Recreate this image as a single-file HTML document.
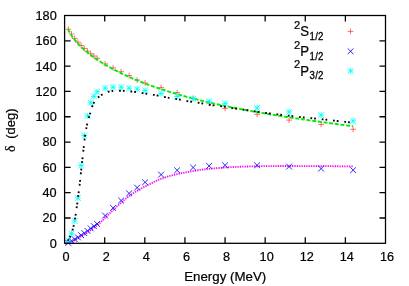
<!DOCTYPE html>
<html><head><meta charset="utf-8"><style>
html,body{margin:0;padding:0;background:#fff;}
svg{display:block;}
text{font-family:"Liberation Sans",sans-serif;font-size:13px;fill:#000;stroke:#000;stroke-width:0.22px;}
</style></head><body>
<svg width="409" height="286" viewBox="0 0 409 286">
<defs><filter id="b" x="0" y="0" width="409" height="286" filterUnits="userSpaceOnUse"><feGaussianBlur stdDeviation="0.38"/></filter></defs>
<rect width="409" height="286" fill="#fff"/>
<g filter="url(#b)">
<path d="M65.40,29.20H71.20M68.30,26.30V32.10M68.60,34.05H74.40M71.50,31.15V36.95M71.80,38.47H77.60M74.70,35.57V41.37M75.00,42.21H80.80M77.90,39.31V45.11M78.20,45.50H84.00M81.10,42.60V48.40M81.40,48.47H87.20M84.30,45.57V51.37M84.60,51.19H90.40M87.50,48.29V54.09M87.80,53.72H93.60M90.70,50.82V56.62M91.00,56.08H96.80M93.90,53.18V58.98M94.20,58.30H100.00M97.10,55.40V61.20M102.20,63.90H108.00M105.10,61.00V66.80M110.20,67.90H116.00M113.10,65.00V70.80M118.20,71.70H124.00M121.10,68.80V74.60M126.20,75.50H132.00M129.10,72.60V78.40M134.20,80.00H140.00M137.10,77.10V82.90M142.20,83.00H148.00M145.10,80.10V85.90M158.20,87.60H164.00M161.10,84.70V90.50M174.20,92.50H180.00M177.10,89.60V95.40M190.20,98.30H196.00M193.10,95.40V101.20M206.20,103.20H212.00M209.10,100.30V106.10M222.20,108.40H228.00M225.10,105.50V111.30M254.20,114.40H260.00M257.10,111.50V117.30M286.20,120.10H292.00M289.10,117.20V123.00M318.20,124.40H324.00M321.10,121.50V127.30M350.20,129.30H356.00M353.10,126.40V132.20M347.65,31.40H353.45M350.55,28.50V34.30" fill="none" stroke="#ff0000" stroke-width="0.55"/>
<path d="M68.00,28.92 L68.71,30.44 L69.43,31.82 L70.14,33.10 L70.86,34.29 L71.57,35.41 L72.29,36.47 L73.00,37.48 L73.71,38.45 L74.43,39.38 L75.14,40.27 L75.86,41.14 L76.57,41.97 L77.29,42.78 L78.00,43.57 L78.71,44.33 L79.43,45.08 L80.14,45.80 L80.86,46.51 L81.57,47.20 L82.29,47.88 L83.00,48.54 L83.71,49.19 L84.43,49.83 L85.14,50.46 L85.86,51.07 L86.57,51.67 L87.29,52.27 L88.00,52.85 L88.71,53.42 L89.43,53.98 L90.14,54.54 L90.86,55.09 L91.57,55.63 L92.29,56.16 L93.00,56.68 L93.71,57.20 L94.43,57.71 L95.14,58.21 L95.86,58.71 L96.57,59.20 L97.29,59.68 L98.00,60.16 L98.71,60.63 L99.43,61.10 L100.14,61.56 L100.86,62.01 L101.57,62.47 L102.29,62.91 L103.00,63.35 L103.71,63.79 L104.43,64.22 L105.14,64.65 L105.86,65.07 L106.57,65.49 L107.29,65.90 L108.00,66.31 L108.71,66.72 L109.43,67.12 L110.14,67.52 L110.86,67.91 L111.57,68.31 L112.29,68.69 L113.00,69.08 L113.71,69.46 L114.43,69.83 L115.14,70.21 L115.86,70.58 L116.57,70.95 L117.29,71.31 L118.00,71.67 L118.71,72.03 L119.43,72.38 L120.14,72.73 L120.86,73.08 L121.57,73.43 L122.29,73.77 L123.00,74.11 L123.71,74.45 L124.43,74.79 L125.14,75.12 L125.86,75.45 L126.57,75.78 L127.29,76.10 L128.00,76.42 L128.71,76.75 L129.43,77.06 L130.14,77.38 L130.86,77.69 L131.57,78.00 L132.29,78.31 L133.00,78.62 L133.71,78.92 L134.43,79.22 L135.14,79.52 L135.86,79.82 L136.57,80.12 L137.29,80.41 L138.00,80.70 L138.71,80.99 L139.43,81.28 L140.14,81.56 L140.86,81.85 L141.57,82.13 L142.29,82.41 L143.00,82.69 L143.71,82.96 L144.43,83.24 L145.14,83.51 L145.86,83.78 L146.57,84.05 L147.29,84.32 L148.00,84.58 L148.71,84.84 L149.43,85.11 L150.14,85.37 L150.86,85.63 L151.57,85.88 L152.29,86.14 L153.00,86.39 L153.71,86.64 L154.43,86.90 L155.14,87.14 L155.86,87.39 L156.57,87.64 L157.29,87.88 L158.00,88.13 L158.71,88.37 L159.43,88.61 L160.14,88.85 L160.86,89.09 L161.57,89.32 L162.29,89.56 L163.00,89.79 L163.71,90.02 L164.43,90.25 L165.14,90.48 L165.86,90.71 L166.57,90.94 L167.29,91.16 L168.00,91.39 L168.71,91.61 L169.43,91.83 L170.14,92.05 L170.86,92.27 L171.57,92.49 L172.29,92.70 L173.00,92.92 L173.71,93.13 L174.43,93.35 L175.14,93.56 L175.86,93.77 L176.57,93.98 L177.29,94.19 L178.00,94.39 L178.71,94.60 L179.43,94.80 L180.14,95.01 L180.86,95.21 L181.57,95.41 L182.29,95.61 L183.00,95.81 L183.71,96.01 L184.43,96.21 L185.14,96.41 L185.86,96.60 L186.57,96.80 L187.29,96.99 L188.00,97.18 L188.71,97.37 L189.43,97.56 L190.14,97.75 L190.86,97.94 L191.57,98.13 L192.29,98.31 L193.00,98.50 L193.71,98.69 L194.43,98.87 L195.14,99.05 L195.86,99.23 L196.57,99.41 L197.29,99.59 L198.00,99.77 L198.71,99.95 L199.43,100.13 L200.14,100.31 L200.86,100.48 L201.57,100.66 L202.29,100.83 L203.00,101.00 L203.71,101.18 L204.43,101.35 L205.14,101.52 L205.86,101.69 L206.57,101.86 L207.29,102.03 L208.00,102.19 L208.71,102.36 L209.43,102.53 L210.14,102.69 L210.86,102.85 L211.57,103.02 L212.29,103.18 L213.00,103.34 L213.71,103.50 L214.43,103.66 L215.14,103.82 L215.86,103.98 L216.57,104.14 L217.29,104.30 L218.00,104.46 L218.71,104.61 L219.43,104.77 L220.14,104.92 L220.86,105.08 L221.57,105.23 L222.29,105.38 L223.00,105.54 L223.71,105.69 L224.43,105.84 L225.14,105.99 L225.86,106.14 L226.57,106.29 L227.29,106.43 L228.00,106.58 L228.71,106.73 L229.43,106.88 L230.14,107.02 L230.86,107.17 L231.57,107.31 L232.29,107.45 L233.00,107.60 L233.71,107.74 L234.43,107.88 L235.14,108.02 L235.86,108.16 L236.57,108.30 L237.29,108.44 L238.00,108.58 L238.71,108.72 L239.43,108.86 L240.14,109.00 L240.86,109.13 L241.57,109.27 L242.29,109.41 L243.00,109.54 L243.71,109.68 L244.43,109.81 L245.14,109.95 L245.86,110.08 L246.57,110.21 L247.29,110.34 L248.00,110.47 L248.71,110.61 L249.43,110.74 L250.14,110.87 L250.86,111.00 L251.57,111.13 L252.29,111.25 L253.00,111.38 L253.71,111.51 L254.43,111.64 L255.14,111.76 L255.86,111.89 L256.57,112.02 L257.29,112.14 L258.00,112.27 L258.71,112.39 L259.43,112.52 L260.14,112.64 L260.86,112.76 L261.57,112.89 L262.29,113.01 L263.00,113.13 L263.71,113.25 L264.43,113.37 L265.14,113.49 L265.86,113.61 L266.57,113.73 L267.29,113.85 L268.00,113.97 L268.71,114.09 L269.43,114.21 L270.14,114.33 L270.86,114.45 L271.57,114.56 L272.29,114.68 L273.00,114.80 L273.71,114.91 L274.43,115.03 L275.14,115.14 L275.86,115.26 L276.57,115.37 L277.29,115.49 L278.00,115.60 L278.71,115.72 L279.43,115.83 L280.14,115.94 L280.86,116.05 L281.57,116.17 L282.29,116.28 L283.00,116.39 L283.71,116.50 L284.43,116.61 L285.14,116.72 L285.86,116.83 L286.57,116.94 L287.29,117.05 L288.00,117.16 L288.71,117.27 L289.43,117.38 L290.14,117.49 L290.86,117.60 L291.57,117.71 L292.29,117.81 L293.00,117.92 L293.71,118.03 L294.43,118.13 L295.14,118.24 L295.86,118.35 L296.57,118.45 L297.29,118.56 L298.00,118.67 L298.71,118.77 L299.43,118.88 L300.14,118.98 L300.86,119.08 L301.57,119.19 L302.29,119.29 L303.00,119.40 L303.71,119.50 L304.43,119.60 L305.14,119.71 L305.86,119.81 L306.57,119.91 L307.29,120.02 L308.00,120.12 L308.71,120.22 L309.43,120.32 L310.14,120.42 L310.86,120.52 L311.57,120.63 L312.29,120.73 L313.00,120.83 L313.71,120.93 L314.43,121.03 L315.14,121.13 L315.86,121.23 L316.57,121.33 L317.29,121.43 L318.00,121.53 L318.71,121.63 L319.43,121.73 L320.14,121.83 L320.86,121.92 L321.57,122.02 L322.29,122.12 L323.00,122.22 L323.71,122.32 L324.43,122.42 L325.14,122.51 L325.86,122.61 L326.57,122.71 L327.29,122.81 L328.00,122.90 L328.71,123.00 L329.43,123.10 L330.14,123.20 L330.86,123.29 L331.57,123.39 L332.29,123.49 L333.00,123.58 L333.71,123.68 L334.43,123.77 L335.14,123.87 L335.86,123.97 L336.57,124.06 L337.29,124.16 L338.00,124.25 L338.71,124.35 L339.43,124.44 L340.14,124.54 L340.86,124.63 L341.57,124.73 L342.29,124.83 L343.00,124.92 L343.71,125.01 L344.43,125.11 L345.14,125.20 L345.86,125.30 L346.57,125.39 L347.29,125.49 L348.00,125.58 L348.71,125.68 L349.43,125.77 L350.14,125.87 L350.86,125.96 L351.57,126.05 L352.29,126.15 L353.00,126.24" fill="none" stroke="#00ec00" stroke-width="1.9" stroke-dasharray="3.895 1.805" stroke-dashoffset="-0.2"/>
<path d="M65.00,243.50 L65.58,243.49 L66.15,243.45 L66.73,243.39 L67.31,243.31 L67.89,243.23 L68.46,243.14 L69.04,242.99 L69.62,242.80 L70.19,242.57 L70.77,242.31 L71.35,242.02 L71.93,241.72 L72.50,241.41 L73.08,241.09 L73.66,240.78 L74.23,240.48 L74.81,240.18 L75.39,239.86 L75.97,239.54 L76.54,239.20 L77.12,238.85 L77.70,238.50 L78.27,238.14 L78.85,237.79 L79.43,237.44 L80.01,237.10 L80.58,236.76 L81.16,236.42 L81.74,236.09 L82.31,235.76 L82.89,235.43 L83.47,235.09 L84.05,234.75 L84.62,234.41 L85.20,234.06 L85.78,233.70 L86.35,233.33 L86.93,232.95 L87.51,232.56 L88.09,232.16 L88.66,231.75 L89.24,231.34 L89.82,230.91 L90.39,230.49 L90.97,230.06 L91.55,229.62 L92.13,229.18 L92.70,228.74 L93.28,228.30 L93.86,227.86 L94.43,227.41 L95.01,226.95 L95.59,226.49 L96.17,226.02 L96.74,225.55 L97.32,225.07 L97.90,224.59 L98.47,224.09 L99.05,223.59 L99.63,223.08 L100.21,222.56 L100.78,222.03 L101.36,221.49 L101.94,220.95 L102.52,220.40 L103.09,219.85 L103.67,219.29 L104.25,218.73 L104.82,218.17 L105.40,217.60 L105.98,217.04 L106.56,216.48 L107.13,215.91 L107.71,215.36 L108.29,214.80 L108.86,214.25 L109.44,213.69 L110.02,213.13 L110.60,212.57 L111.17,212.01 L111.75,211.44 L112.33,210.87 L112.90,210.31 L113.48,209.74 L114.06,209.18 L114.64,208.62 L115.21,208.07 L115.79,207.52 L116.37,206.97 L116.94,206.43 L117.52,205.90 L118.10,205.38 L118.68,204.87 L119.25,204.35 L119.83,203.84 L120.41,203.32 L120.98,202.81 L121.56,202.30 L122.14,201.79 L122.72,201.29 L123.29,200.79 L123.87,200.29 L124.45,199.80 L125.02,199.31 L125.60,198.83 L126.18,198.36 L126.76,197.89 L127.33,197.43 L127.91,196.98 L128.49,196.54 L129.06,196.11 L129.64,195.68 L130.22,195.27 L130.80,194.86 L131.37,194.47 L131.95,194.08 L132.53,193.70 L133.10,193.33 L133.68,192.96 L134.26,192.60 L134.84,192.24 L135.41,191.89 L135.99,191.54 L136.57,191.20 L137.14,190.86 L137.72,190.53 L138.30,190.20 L138.88,189.87 L139.45,189.54 L140.03,189.22 L140.61,188.90 L141.18,188.58 L141.76,188.27 L142.34,187.95 L142.92,187.64 L143.49,187.33 L144.07,187.03 L144.65,186.73 L145.22,186.44 L145.80,186.15 L146.38,185.86 L146.96,185.57 L147.53,185.29 L148.11,185.00 L148.69,184.71 L149.26,184.41 L149.84,184.11 L150.42,183.81 L151.00,183.50 L151.57,183.20 L152.15,182.89 L152.73,182.58 L153.30,182.28 L153.88,181.98 L154.46,181.68 L155.04,181.39 L155.61,181.11 L156.19,180.84 L156.77,180.59 L157.34,180.34 L157.92,180.10 L158.50,179.86 L159.08,179.63 L159.65,179.40 L160.23,179.18 L160.81,178.95 L161.38,178.74 L161.96,178.52 L162.54,178.31 L163.12,178.11 L163.69,177.90 L164.27,177.70 L164.85,177.51 L165.42,177.32 L166.00,177.13 L166.58,176.94 L167.16,176.76 L167.73,176.59 L168.31,176.41 L168.89,176.25 L169.46,176.08 L170.04,175.92 L170.62,175.76 L171.20,175.61 L171.77,175.46 L172.35,175.31 L172.93,175.17 L173.51,175.02 L174.08,174.88 L174.66,174.75 L175.24,174.61 L175.81,174.48 L176.39,174.35 L176.97,174.22 L177.55,174.09 L178.12,173.96 L178.70,173.84 L179.28,173.71 L179.85,173.59 L180.43,173.47 L181.01,173.35 L181.59,173.22 L182.16,173.10 L182.74,172.98 L183.32,172.87 L183.89,172.75 L184.47,172.63 L185.05,172.52 L185.63,172.41 L186.20,172.29 L186.78,172.18 L187.36,172.07 L187.93,171.96 L188.51,171.86 L189.09,171.75 L189.67,171.64 L190.24,171.54 L190.82,171.44 L191.40,171.33 L191.97,171.23 L192.55,171.13 L193.13,171.03 L193.71,170.93 L194.28,170.83 L194.86,170.74 L195.44,170.64 L196.01,170.54 L196.59,170.44 L197.17,170.35 L197.75,170.25 L198.32,170.16 L198.90,170.07 L199.48,169.98 L200.05,169.89 L200.63,169.81 L201.21,169.73 L201.79,169.65 L202.36,169.58 L202.94,169.51 L203.52,169.44 L204.09,169.38 L204.67,169.32 L205.25,169.25 L205.83,169.19 L206.40,169.13 L206.98,169.08 L207.56,169.02 L208.13,168.96 L208.71,168.91 L209.29,168.86 L209.87,168.80 L210.44,168.75 L211.02,168.70 L211.60,168.65 L212.17,168.60 L212.75,168.55 L213.33,168.49 L213.91,168.44 L214.48,168.39 L215.06,168.34 L215.64,168.29 L216.21,168.24 L216.79,168.19 L217.37,168.13 L217.95,168.08 L218.52,168.03 L219.10,167.98 L219.68,167.93 L220.25,167.88 L220.83,167.83 L221.41,167.79 L221.99,167.74 L222.56,167.69 L223.14,167.65 L223.72,167.60 L224.29,167.56 L224.87,167.52 L225.45,167.48 L226.03,167.44 L226.60,167.41 L227.18,167.37 L227.76,167.34 L228.33,167.30 L228.91,167.27 L229.49,167.24 L230.07,167.21 L230.64,167.17 L231.22,167.14 L231.80,167.11 L232.37,167.08 L232.95,167.06 L233.53,167.03 L234.11,167.00 L234.68,166.97 L235.26,166.95 L235.84,166.92 L236.41,166.90 L236.99,166.87 L237.57,166.85 L238.15,166.83 L238.72,166.81 L239.30,166.78 L239.88,166.76 L240.45,166.74 L241.03,166.72 L241.61,166.70 L242.19,166.68 L242.76,166.66 L243.34,166.64 L243.92,166.61 L244.49,166.59 L245.07,166.57 L245.65,166.55 L246.23,166.53 L246.80,166.51 L247.38,166.49 L247.96,166.48 L248.54,166.46 L249.11,166.44 L249.69,166.42 L250.27,166.40 L250.84,166.39 L251.42,166.37 L252.00,166.35 L252.58,166.34 L253.15,166.32 L253.73,166.31 L254.31,166.29 L254.88,166.28 L255.46,166.27 L256.04,166.26 L256.62,166.24 L257.19,166.23 L257.77,166.22 L258.35,166.21 L258.92,166.21 L259.50,166.20 L260.08,166.19 L260.66,166.18 L261.23,166.18 L261.81,166.17 L262.39,166.16 L262.96,166.15 L263.54,166.15 L264.12,166.14 L264.70,166.13 L265.27,166.13 L265.85,166.12 L266.43,166.11 L267.00,166.11 L267.58,166.10 L268.16,166.09 L268.74,166.09 L269.31,166.08 L269.89,166.08 L270.47,166.07 L271.04,166.07 L271.62,166.06 L272.20,166.06 L272.78,166.05 L273.35,166.05 L273.93,166.04 L274.51,166.04 L275.08,166.03 L275.66,166.03 L276.24,166.03 L276.82,166.02 L277.39,166.02 L277.97,166.02 L278.55,166.01 L279.12,166.01 L279.70,166.01 L280.28,166.01 L280.86,166.00 L281.43,166.00 L282.01,166.00 L282.59,166.00 L283.16,166.00 L283.74,166.00 L284.32,166.00 L284.90,166.00 L285.47,166.00 L286.05,166.00 L286.63,166.00 L287.20,166.00 L287.78,166.00 L288.36,166.00 L288.94,166.01 L289.51,166.01 L290.09,166.01 L290.67,166.01 L291.24,166.01 L291.82,166.01 L292.40,166.01 L292.98,166.02 L293.55,166.02 L294.13,166.02 L294.71,166.02 L295.28,166.02 L295.86,166.03 L296.44,166.03 L297.02,166.03 L297.59,166.03 L298.17,166.04 L298.75,166.04 L299.32,166.04 L299.90,166.04 L300.48,166.05 L301.06,166.05 L301.63,166.05 L302.21,166.06 L302.79,166.06 L303.36,166.06 L303.94,166.06 L304.52,166.07 L305.10,166.07 L305.67,166.07 L306.25,166.08 L306.83,166.08 L307.40,166.08 L307.98,166.08 L308.56,166.09 L309.14,166.09 L309.71,166.09 L310.29,166.10 L310.87,166.10 L311.44,166.10 L312.02,166.10 L312.60,166.11 L313.18,166.11 L313.75,166.11 L314.33,166.12 L314.91,166.12 L315.48,166.12 L316.06,166.12 L316.64,166.13 L317.22,166.13 L317.79,166.13 L318.37,166.14 L318.95,166.14 L319.53,166.14 L320.10,166.15 L320.68,166.15 L321.26,166.15 L321.83,166.16 L322.41,166.16 L322.99,166.16 L323.57,166.17 L324.14,166.17 L324.72,166.18 L325.30,166.18 L325.87,166.18 L326.45,166.19 L327.03,166.19 L327.61,166.19 L328.18,166.20 L328.76,166.20 L329.34,166.21 L329.91,166.21 L330.49,166.21 L331.07,166.22 L331.65,166.22 L332.22,166.23 L332.80,166.23 L333.38,166.24 L333.95,166.24 L334.53,166.24 L335.11,166.25 L335.69,166.25 L336.26,166.26 L336.84,166.26 L337.42,166.27 L337.99,166.27 L338.57,166.28 L339.15,166.28 L339.73,166.28 L340.30,166.29 L340.88,166.29 L341.46,166.30 L342.03,166.30 L342.61,166.31 L343.19,166.31 L343.77,166.32 L344.34,166.32 L344.92,166.33 L345.50,166.33 L346.07,166.34 L346.65,166.34 L347.23,166.35 L347.81,166.35 L348.38,166.36 L348.96,166.36 L349.54,166.37 L350.11,166.37 L350.69,166.38 L351.27,166.38 L351.85,166.39 L352.42,166.39 L353.00,166.40" fill="none" stroke="#ffdcff" stroke-width="1.8"/>
<path d="M65.00,243.50 L65.58,243.49 L66.15,243.45 L66.73,243.39 L67.31,243.31 L67.89,243.23 L68.46,243.14 L69.04,242.99 L69.62,242.80 L70.19,242.57 L70.77,242.31 L71.35,242.02 L71.93,241.72 L72.50,241.41 L73.08,241.09 L73.66,240.78 L74.23,240.48 L74.81,240.18 L75.39,239.86 L75.97,239.54 L76.54,239.20 L77.12,238.85 L77.70,238.50 L78.27,238.14 L78.85,237.79 L79.43,237.44 L80.01,237.10 L80.58,236.76 L81.16,236.42 L81.74,236.09 L82.31,235.76 L82.89,235.43 L83.47,235.09 L84.05,234.75 L84.62,234.41 L85.20,234.06 L85.78,233.70 L86.35,233.33 L86.93,232.95 L87.51,232.56 L88.09,232.16 L88.66,231.75 L89.24,231.34 L89.82,230.91 L90.39,230.49 L90.97,230.06 L91.55,229.62 L92.13,229.18 L92.70,228.74 L93.28,228.30 L93.86,227.86 L94.43,227.41 L95.01,226.95 L95.59,226.49 L96.17,226.02 L96.74,225.55 L97.32,225.07 L97.90,224.59 L98.47,224.09 L99.05,223.59 L99.63,223.08 L100.21,222.56 L100.78,222.03 L101.36,221.49 L101.94,220.95 L102.52,220.40 L103.09,219.85 L103.67,219.29 L104.25,218.73 L104.82,218.17 L105.40,217.60 L105.98,217.04 L106.56,216.48 L107.13,215.91 L107.71,215.36 L108.29,214.80 L108.86,214.25 L109.44,213.69 L110.02,213.13 L110.60,212.57 L111.17,212.01 L111.75,211.44 L112.33,210.87 L112.90,210.31 L113.48,209.74 L114.06,209.18 L114.64,208.62 L115.21,208.07 L115.79,207.52 L116.37,206.97 L116.94,206.43 L117.52,205.90 L118.10,205.38 L118.68,204.87 L119.25,204.35 L119.83,203.84 L120.41,203.32 L120.98,202.81 L121.56,202.30 L122.14,201.79 L122.72,201.29 L123.29,200.79 L123.87,200.29 L124.45,199.80 L125.02,199.31 L125.60,198.83 L126.18,198.36 L126.76,197.89 L127.33,197.43 L127.91,196.98 L128.49,196.54 L129.06,196.11 L129.64,195.68 L130.22,195.27 L130.80,194.86 L131.37,194.47 L131.95,194.08 L132.53,193.70 L133.10,193.33 L133.68,192.96 L134.26,192.60 L134.84,192.24 L135.41,191.89 L135.99,191.54 L136.57,191.20 L137.14,190.86 L137.72,190.53 L138.30,190.20 L138.88,189.87 L139.45,189.54 L140.03,189.22 L140.61,188.90 L141.18,188.58 L141.76,188.27 L142.34,187.95 L142.92,187.64 L143.49,187.33 L144.07,187.03 L144.65,186.73 L145.22,186.44 L145.80,186.15 L146.38,185.86 L146.96,185.57 L147.53,185.29 L148.11,185.00 L148.69,184.71 L149.26,184.41 L149.84,184.11 L150.42,183.81 L151.00,183.50 L151.57,183.20 L152.15,182.89 L152.73,182.58 L153.30,182.28 L153.88,181.98 L154.46,181.68 L155.04,181.39 L155.61,181.11 L156.19,180.84 L156.77,180.59 L157.34,180.34 L157.92,180.10 L158.50,179.86 L159.08,179.63 L159.65,179.40 L160.23,179.18 L160.81,178.95 L161.38,178.74 L161.96,178.52 L162.54,178.31 L163.12,178.11 L163.69,177.90 L164.27,177.70 L164.85,177.51 L165.42,177.32 L166.00,177.13 L166.58,176.94 L167.16,176.76 L167.73,176.59 L168.31,176.41 L168.89,176.25 L169.46,176.08 L170.04,175.92 L170.62,175.76 L171.20,175.61 L171.77,175.46 L172.35,175.31 L172.93,175.17 L173.51,175.02 L174.08,174.88 L174.66,174.75 L175.24,174.61 L175.81,174.48 L176.39,174.35 L176.97,174.22 L177.55,174.09 L178.12,173.96 L178.70,173.84 L179.28,173.71 L179.85,173.59 L180.43,173.47 L181.01,173.35 L181.59,173.22 L182.16,173.10 L182.74,172.98 L183.32,172.87 L183.89,172.75 L184.47,172.63 L185.05,172.52 L185.63,172.41 L186.20,172.29 L186.78,172.18 L187.36,172.07 L187.93,171.96 L188.51,171.86 L189.09,171.75 L189.67,171.64 L190.24,171.54 L190.82,171.44 L191.40,171.33 L191.97,171.23 L192.55,171.13 L193.13,171.03 L193.71,170.93 L194.28,170.83 L194.86,170.74 L195.44,170.64 L196.01,170.54 L196.59,170.44 L197.17,170.35 L197.75,170.25 L198.32,170.16 L198.90,170.07 L199.48,169.98 L200.05,169.89 L200.63,169.81 L201.21,169.73 L201.79,169.65 L202.36,169.58 L202.94,169.51 L203.52,169.44 L204.09,169.38 L204.67,169.32 L205.25,169.25 L205.83,169.19 L206.40,169.13 L206.98,169.08 L207.56,169.02 L208.13,168.96 L208.71,168.91 L209.29,168.86 L209.87,168.80 L210.44,168.75 L211.02,168.70 L211.60,168.65 L212.17,168.60 L212.75,168.55 L213.33,168.49 L213.91,168.44 L214.48,168.39 L215.06,168.34 L215.64,168.29 L216.21,168.24 L216.79,168.19 L217.37,168.13 L217.95,168.08 L218.52,168.03 L219.10,167.98 L219.68,167.93 L220.25,167.88 L220.83,167.83 L221.41,167.79 L221.99,167.74 L222.56,167.69 L223.14,167.65 L223.72,167.60 L224.29,167.56 L224.87,167.52 L225.45,167.48 L226.03,167.44 L226.60,167.41 L227.18,167.37 L227.76,167.34 L228.33,167.30 L228.91,167.27 L229.49,167.24 L230.07,167.21 L230.64,167.17 L231.22,167.14 L231.80,167.11 L232.37,167.08 L232.95,167.06 L233.53,167.03 L234.11,167.00 L234.68,166.97 L235.26,166.95 L235.84,166.92 L236.41,166.90 L236.99,166.87 L237.57,166.85 L238.15,166.83 L238.72,166.81 L239.30,166.78 L239.88,166.76 L240.45,166.74 L241.03,166.72 L241.61,166.70 L242.19,166.68 L242.76,166.66 L243.34,166.64 L243.92,166.61 L244.49,166.59 L245.07,166.57 L245.65,166.55 L246.23,166.53 L246.80,166.51 L247.38,166.49 L247.96,166.48 L248.54,166.46 L249.11,166.44 L249.69,166.42 L250.27,166.40 L250.84,166.39 L251.42,166.37 L252.00,166.35 L252.58,166.34 L253.15,166.32 L253.73,166.31 L254.31,166.29 L254.88,166.28 L255.46,166.27 L256.04,166.26 L256.62,166.24 L257.19,166.23 L257.77,166.22 L258.35,166.21 L258.92,166.21 L259.50,166.20 L260.08,166.19 L260.66,166.18 L261.23,166.18 L261.81,166.17 L262.39,166.16 L262.96,166.15 L263.54,166.15 L264.12,166.14 L264.70,166.13 L265.27,166.13 L265.85,166.12 L266.43,166.11 L267.00,166.11 L267.58,166.10 L268.16,166.09 L268.74,166.09 L269.31,166.08 L269.89,166.08 L270.47,166.07 L271.04,166.07 L271.62,166.06 L272.20,166.06 L272.78,166.05 L273.35,166.05 L273.93,166.04 L274.51,166.04 L275.08,166.03 L275.66,166.03 L276.24,166.03 L276.82,166.02 L277.39,166.02 L277.97,166.02 L278.55,166.01 L279.12,166.01 L279.70,166.01 L280.28,166.01 L280.86,166.00 L281.43,166.00 L282.01,166.00 L282.59,166.00 L283.16,166.00 L283.74,166.00 L284.32,166.00 L284.90,166.00 L285.47,166.00 L286.05,166.00 L286.63,166.00 L287.20,166.00 L287.78,166.00 L288.36,166.00 L288.94,166.01 L289.51,166.01 L290.09,166.01 L290.67,166.01 L291.24,166.01 L291.82,166.01 L292.40,166.01 L292.98,166.02 L293.55,166.02 L294.13,166.02 L294.71,166.02 L295.28,166.02 L295.86,166.03 L296.44,166.03 L297.02,166.03 L297.59,166.03 L298.17,166.04 L298.75,166.04 L299.32,166.04 L299.90,166.04 L300.48,166.05 L301.06,166.05 L301.63,166.05 L302.21,166.06 L302.79,166.06 L303.36,166.06 L303.94,166.06 L304.52,166.07 L305.10,166.07 L305.67,166.07 L306.25,166.08 L306.83,166.08 L307.40,166.08 L307.98,166.08 L308.56,166.09 L309.14,166.09 L309.71,166.09 L310.29,166.10 L310.87,166.10 L311.44,166.10 L312.02,166.10 L312.60,166.11 L313.18,166.11 L313.75,166.11 L314.33,166.12 L314.91,166.12 L315.48,166.12 L316.06,166.12 L316.64,166.13 L317.22,166.13 L317.79,166.13 L318.37,166.14 L318.95,166.14 L319.53,166.14 L320.10,166.15 L320.68,166.15 L321.26,166.15 L321.83,166.16 L322.41,166.16 L322.99,166.16 L323.57,166.17 L324.14,166.17 L324.72,166.18 L325.30,166.18 L325.87,166.18 L326.45,166.19 L327.03,166.19 L327.61,166.19 L328.18,166.20 L328.76,166.20 L329.34,166.21 L329.91,166.21 L330.49,166.21 L331.07,166.22 L331.65,166.22 L332.22,166.23 L332.80,166.23 L333.38,166.24 L333.95,166.24 L334.53,166.24 L335.11,166.25 L335.69,166.25 L336.26,166.26 L336.84,166.26 L337.42,166.27 L337.99,166.27 L338.57,166.28 L339.15,166.28 L339.73,166.28 L340.30,166.29 L340.88,166.29 L341.46,166.30 L342.03,166.30 L342.61,166.31 L343.19,166.31 L343.77,166.32 L344.34,166.32 L344.92,166.33 L345.50,166.33 L346.07,166.34 L346.65,166.34 L347.23,166.35 L347.81,166.35 L348.38,166.36 L348.96,166.36 L349.54,166.37 L350.11,166.37 L350.69,166.38 L351.27,166.38 L351.85,166.39 L352.42,166.39 L353.00,166.40" fill="none" stroke="#f400f4" stroke-width="1.8" stroke-dasharray="1.1 1.275"/>
<path d="M65.40,240.00L71.20,245.80M65.40,245.80L71.20,240.00M68.60,238.00L74.40,243.80M68.60,243.80L74.40,238.00M71.80,236.30L77.60,242.10M71.80,242.10L77.60,236.30M75.00,234.50L80.80,240.30M75.00,240.30L80.80,234.50M78.20,232.30L84.00,238.10M78.20,238.10L84.00,232.30M81.40,230.20L87.20,236.00M81.40,236.00L87.20,230.20M84.60,228.00L90.40,233.80M84.60,233.80L90.40,228.00M87.80,225.50L93.60,231.30M87.80,231.30L93.60,225.50M91.00,223.30L96.80,229.10M91.00,229.10L96.80,223.30M94.20,221.00L100.00,226.80M94.20,226.80L100.00,221.00M102.20,212.70L108.00,218.50M102.20,218.50L108.00,212.70M110.20,205.00L116.00,210.80M110.20,210.80L116.00,205.00M118.20,197.60L124.00,203.40M118.20,203.40L124.00,197.60M126.20,190.50L132.00,196.30M126.20,196.30L132.00,190.50M134.20,184.70L140.00,190.50M134.20,190.50L140.00,184.70M142.20,179.40L148.00,185.20M142.20,185.20L148.00,179.40M158.20,171.70L164.00,177.50M158.20,177.50L164.00,171.70M174.20,167.40L180.00,173.20M174.20,173.20L180.00,167.40M190.20,164.60L196.00,170.40M190.20,170.40L196.00,164.60M206.20,163.00L212.00,168.80M206.20,168.80L212.00,163.00M222.20,162.40L228.00,168.20M222.20,168.20L228.00,162.40M254.20,162.40L260.00,168.20M254.20,168.20L260.00,162.40M286.20,163.70L292.00,169.50M286.20,169.50L292.00,163.70M318.20,165.70L324.00,171.50M318.20,171.50L324.00,165.70M350.20,167.30L356.00,173.10M350.20,173.10L356.00,167.30M347.70,48.40L353.50,54.20M347.70,54.20L353.50,48.40" fill="none" stroke="#0000ff" stroke-width="0.85"/>
<path d="M65.40,240.70H71.20M68.30,237.80V243.60M65.40,237.80L71.20,243.60M65.40,243.60L71.20,237.80M68.60,233.60H74.40M71.50,230.70V236.50M68.60,230.70L74.40,236.50M68.60,236.50L74.40,230.70M71.80,220.90H77.60M74.70,218.00V223.80M71.80,218.00L77.60,223.80M71.80,223.80L77.60,218.00M75.00,198.00H80.80M77.90,195.10V200.90M75.00,195.10L80.80,200.90M75.00,200.90L80.80,195.10M78.20,165.50H84.00M81.10,162.60V168.40M78.20,162.60L84.00,168.40M78.20,168.40L84.00,162.60M81.40,135.50H87.20M84.30,132.60V138.40M81.40,132.60L87.20,138.40M81.40,138.40L87.20,132.60M84.60,115.80H90.40M87.50,112.90V118.70M84.60,112.90L90.40,118.70M84.60,118.70L90.40,112.90M87.80,102.80H93.60M90.70,99.90V105.70M87.80,99.90L93.60,105.70M87.80,105.70L93.60,99.90M91.00,96.40H96.80M93.90,93.50V99.30M91.00,93.50L96.80,99.30M91.00,99.30L96.80,93.50M94.20,91.70H100.00M97.10,88.80V94.60M94.20,88.80L100.00,94.60M94.20,94.60L100.00,88.80M102.20,88.10H108.00M105.10,85.20V91.00M102.20,85.20L108.00,91.00M102.20,91.00L108.00,85.20M110.20,87.20H116.00M113.10,84.30V90.10M110.20,84.30L116.00,90.10M110.20,90.10L116.00,84.30M118.20,87.20H124.00M121.10,84.30V90.10M118.20,84.30L124.00,90.10M118.20,90.10L124.00,84.30M126.20,88.20H132.00M129.10,85.30V91.10M126.20,85.30L132.00,91.10M126.20,91.10L132.00,85.30M134.20,89.10H140.00M137.10,86.20V92.00M134.20,86.20L140.00,92.00M134.20,92.00L140.00,86.20M142.20,90.40H148.00M145.10,87.50V93.30M142.20,87.50L148.00,93.30M142.20,93.30L148.00,87.50M158.20,93.50H164.00M161.10,90.60V96.40M158.20,90.60L164.00,96.40M158.20,96.40L164.00,90.60M174.20,96.50H180.00M177.10,93.60V99.40M174.20,93.60L180.00,99.40M174.20,99.40L180.00,93.60M190.20,98.80H196.00M193.10,95.90V101.70M190.20,95.90L196.00,101.70M190.20,101.70L196.00,95.90M206.20,101.30H212.00M209.10,98.40V104.20M206.20,98.40L212.00,104.20M206.20,104.20L212.00,98.40M222.20,103.40H228.00M225.10,100.50V106.30M222.20,100.50L228.00,106.30M222.20,106.30L228.00,100.50M254.20,107.90H260.00M257.10,105.00V110.80M254.20,105.00L260.00,110.80M254.20,110.80L260.00,105.00M286.20,111.90H292.00M289.10,109.00V114.80M286.20,109.00L292.00,114.80M286.20,114.80L292.00,109.00M318.20,115.10H324.00M321.10,112.20V118.00M318.20,112.20L324.00,118.00M318.20,118.00L324.00,112.20M350.20,120.90H356.00M353.10,118.00V123.80M350.20,118.00L356.00,123.80M350.20,123.80L356.00,118.00M347.70,70.90H353.50M350.60,68.00V73.80M347.70,68.00L353.50,73.80M347.70,73.80L353.50,68.00" fill="none" stroke="#00ffff" stroke-width="0.85"/>
<path d="M65.50,243.00 L65.89,242.66 L66.27,242.32 L66.64,241.96 L66.99,241.59 L67.33,241.21 L67.64,240.82 L67.95,240.41 L68.25,240.00 L68.54,239.57 L68.82,239.13 L69.08,238.69 L69.33,238.24 L69.55,237.79 L69.77,237.34 L69.98,236.88 L70.19,236.42 L70.39,235.96 L70.59,235.49 L70.78,235.01 L70.97,234.54 L71.15,234.06 L71.33,233.58 L71.51,233.09 L71.68,232.61 L71.85,232.12 L72.01,231.63 L72.17,231.14 L72.32,230.65 L72.47,230.15 L72.61,229.66 L72.75,229.17 L72.89,228.67 L73.02,228.18 L73.15,227.69 L73.28,227.20 L73.40,226.71 L73.51,226.21 L73.63,225.72 L73.74,225.22 L73.85,224.72 L73.95,224.22 L74.06,223.72 L74.16,223.22 L74.26,222.72 L74.35,222.22 L74.45,221.71 L74.54,221.21 L74.63,220.71 L74.72,220.20 L74.81,219.70 L74.90,219.19 L74.98,218.69 L75.07,218.18 L75.15,217.68 L75.24,217.18 L75.32,216.67 L75.41,216.17 L75.49,215.67 L75.57,215.16 L75.65,214.66 L75.73,214.15 L75.80,213.65 L75.88,213.14 L75.96,212.64 L76.03,212.13 L76.10,211.63 L76.18,211.12 L76.25,210.62 L76.32,210.11 L76.39,209.61 L76.46,209.10 L76.53,208.59 L76.60,208.09 L76.67,207.58 L76.74,207.08 L76.81,206.57 L76.88,206.07 L76.95,205.56 L77.02,205.05 L77.09,204.55 L77.16,204.04 L77.23,203.54 L77.29,203.03 L77.36,202.52 L77.43,202.02 L77.50,201.51 L77.56,201.01 L77.63,200.50 L77.69,199.99 L77.76,199.49 L77.83,198.98 L77.89,198.47 L77.96,197.97 L78.02,197.46 L78.08,196.96 L78.15,196.45 L78.21,195.94 L78.28,195.44 L78.34,194.93 L78.41,194.42 L78.47,193.92 L78.54,193.41 L78.60,192.90 L78.67,192.40 L78.73,191.89 L78.80,191.38 L78.86,190.88 L78.93,190.37 L78.99,189.87 L79.06,189.36 L79.12,188.85 L79.19,188.35 L79.25,187.84 L79.32,187.33 L79.38,186.83 L79.44,186.32 L79.51,185.81 L79.57,185.31 L79.63,184.80 L79.69,184.29 L79.75,183.79 L79.81,183.28 L79.87,182.77 L79.93,182.26 L79.98,181.76 L80.04,181.25 L80.09,180.74 L80.15,180.24 L80.20,179.73 L80.26,179.22 L80.31,178.71 L80.36,178.20 L80.41,177.70 L80.46,177.19 L80.52,176.68 L80.57,176.17 L80.62,175.66 L80.67,175.16 L80.72,174.65 L80.77,174.14 L80.83,173.63 L80.88,173.12 L80.93,172.62 L80.99,172.11 L81.04,171.60 L81.09,171.09 L81.15,170.59 L81.20,170.08 L81.26,169.57 L81.31,169.06 L81.37,168.56 L81.42,168.05 L81.48,167.54 L81.54,167.03 L81.59,166.53 L81.65,166.02 L81.70,165.51 L81.76,165.00 L81.82,164.50 L81.87,163.99 L81.93,163.48 L81.98,162.97 L82.04,162.47 L82.10,161.96 L82.15,161.45 L82.21,160.94 L82.27,160.44 L82.32,159.93 L82.38,159.42 L82.44,158.92 L82.50,158.41 L82.55,157.90 L82.61,157.39 L82.67,156.89 L82.73,156.38 L82.78,155.87 L82.84,155.36 L82.90,154.86 L82.96,154.35 L83.02,153.84 L83.07,153.34 L83.13,152.83 L83.19,152.32 L83.25,151.81 L83.31,151.31 L83.36,150.80 L83.42,150.29 L83.48,149.78 L83.54,149.28 L83.59,148.77 L83.65,148.26 L83.70,147.76 L83.76,147.25 L83.81,146.74 L83.86,146.23 L83.92,145.72 L83.97,145.22 L84.02,144.71 L84.07,144.20 L84.12,143.69 L84.18,143.18 L84.23,142.67 L84.28,142.17 L84.33,141.66 L84.39,141.15 L84.45,140.64 L84.50,140.14 L84.56,139.63 L84.62,139.12 L84.68,138.62 L84.74,138.11 L84.81,137.60 L84.88,137.10 L84.95,136.59 L85.02,136.09 L85.09,135.58 L85.16,135.08 L85.24,134.57 L85.32,134.07 L85.39,133.56 L85.47,133.06 L85.56,132.55 L85.64,132.05 L85.73,131.54 L85.81,131.04 L85.90,130.54 L85.99,130.03 L86.08,129.53 L86.18,129.03 L86.27,128.53 L86.37,128.03 L86.46,127.53 L86.56,127.03 L86.66,126.53 L86.77,126.03 L86.87,125.53 L86.98,125.03 L87.09,124.53 L87.20,124.04 L87.32,123.54 L87.44,123.04 L87.56,122.55 L87.69,122.05 L87.81,121.56 L87.94,121.06 L88.07,120.57 L88.20,120.07 L88.34,119.58 L88.47,119.09 L88.61,118.59 L88.75,118.10 L88.88,117.61 L89.02,117.12 L89.16,116.63 L89.30,116.14 L89.44,115.64 L89.58,115.15 L89.72,114.66 L89.86,114.17 L90.00,113.68 L90.14,113.18 L90.28,112.69 L90.42,112.19 L90.56,111.69 L90.70,111.20 L90.84,110.70 L90.98,110.21 L91.13,109.72 L91.28,109.22 L91.43,108.73 L91.59,108.25 L91.75,107.76 L91.91,107.28 L92.08,106.80 L92.26,106.32 L92.44,105.85 L92.62,105.38 L92.82,104.92 L93.02,104.46 L93.23,104.00 L93.45,103.55 L93.69,103.09 L93.94,102.63 L94.20,102.18 L94.47,101.74 L94.75,101.30 L95.04,100.88 L95.33,100.46 L95.64,100.06 L95.95,99.66 L96.27,99.29 L96.60,98.92 L96.96,98.55 L97.33,98.19 L97.70,97.84 L98.09,97.50 L98.49,97.16 L98.90,96.84 L99.31,96.52 L99.72,96.22 L100.13,95.92 L100.55,95.63 L100.97,95.35 L101.40,95.08 L101.84,94.82 L102.28,94.56 L102.73,94.31 L103.19,94.07 L103.65,93.83 L104.11,93.61 L104.57,93.39 L105.03,93.19 L105.50,92.98 L105.97,92.77 L106.44,92.57 L106.92,92.37 L107.40,92.17 L107.88,91.98 L108.36,91.81 L108.85,91.65 L109.34,91.50 L109.83,91.38 L110.32,91.28 L110.82,91.20 L111.32,91.12 L111.82,91.05 L112.33,90.98 L112.84,90.92 L113.35,90.86 L113.86,90.81 L114.37,90.76 L114.88,90.73 L115.39,90.71 L115.90,90.70 L116.41,90.70 L116.92,90.70 L117.43,90.71 L117.94,90.71 L118.46,90.72 L118.97,90.73 L119.48,90.74 L119.99,90.75 L120.50,90.76 L121.01,90.78 L121.52,90.79 L122.03,90.80 L122.54,90.82 L123.05,90.84 L123.56,90.86 L124.07,90.89 L124.58,90.92 L125.09,90.95 L125.60,90.99 L126.11,91.03 L126.62,91.07 L127.13,91.11 L127.64,91.16 L128.14,91.20 L128.65,91.25 L129.16,91.30 L129.67,91.35 L130.18,91.40 L130.69,91.46 L131.19,91.51 L131.70,91.56 L132.21,91.62 L132.72,91.67 L133.22,91.72 L133.73,91.78 L134.24,91.84 L134.74,91.91 L135.25,91.98 L135.75,92.05 L136.26,92.12 L136.76,92.20 L137.27,92.28 L137.77,92.36 L138.28,92.44 L138.78,92.52 L139.28,92.61 L139.79,92.69 L140.29,92.78 L140.80,92.86 L141.30,92.95 L141.80,93.03 L142.31,93.11 L142.81,93.20 L143.32,93.28 L143.82,93.36 L144.32,93.43 L144.83,93.51 L145.33,93.59 L145.84,93.66 L146.35,93.73 L146.85,93.81 L147.36,93.88 L147.86,93.95 L148.37,94.03 L148.87,94.10 L149.38,94.17 L149.88,94.25 L150.39,94.32 L150.89,94.40 L151.40,94.47 L151.90,94.55 L152.41,94.63 L152.91,94.71 L153.42,94.79 L153.92,94.87 L154.42,94.95 L154.93,95.03 L155.43,95.12 L155.93,95.21 L156.43,95.30 L156.93,95.40 L157.44,95.49 L157.94,95.59 L158.44,95.69 L158.94,95.80 L159.44,95.90 L159.94,96.01 L160.43,96.12 L160.93,96.23 L161.43,96.33 L161.93,96.44 L162.43,96.55 L162.93,96.66 L163.43,96.77 L163.93,96.87 L164.43,96.97 L164.93,97.08 L165.43,97.18 L165.93,97.27 L166.43,97.37 L166.94,97.46 L167.44,97.55 L167.94,97.64 L168.44,97.73 L168.95,97.81 L169.45,97.90 L169.95,97.98 L170.46,98.06 L170.96,98.14 L171.47,98.22 L171.97,98.31 L172.47,98.39 L172.98,98.47 L173.48,98.55 L173.99,98.63 L174.49,98.71 L175.00,98.79 L175.50,98.87 L176.00,98.96 L176.51,99.04 L177.01,99.13 L177.51,99.21 L178.02,99.30 L178.52,99.39 L179.02,99.49 L179.52,99.58 L180.02,99.68 L180.52,99.77 L181.03,99.87 L181.53,99.97 L182.03,100.07 L182.53,100.17 L183.03,100.27 L183.53,100.37 L184.03,100.47 L184.53,100.57 L185.03,100.67 L185.53,100.77 L186.03,100.87 L186.54,100.96 L187.04,101.06 L187.54,101.15 L188.04,101.24 L188.54,101.32 L189.05,101.41 L189.55,101.49 L190.06,101.57 L190.56,101.65 L191.06,101.72 L191.57,101.80 L192.07,101.87 L192.58,101.94 L193.09,102.01 L193.59,102.08 L194.10,102.15 L194.60,102.22 L195.11,102.29 L195.62,102.36 L196.12,102.43 L196.63,102.50 L197.13,102.57 L197.64,102.65 L198.14,102.72 L198.65,102.79 L199.15,102.87 L199.66,102.95 L200.16,103.03 L200.67,103.11 L201.17,103.20 L201.67,103.28 L202.17,103.37 L202.68,103.47 L203.18,103.56 L203.68,103.66 L204.18,103.76 L204.68,103.85 L205.18,103.95 L205.69,104.05 L206.19,104.15 L206.69,104.25 L207.19,104.34 L207.69,104.44 L208.19,104.53 L208.70,104.63 L209.20,104.72 L209.70,104.80 L210.20,104.89 L210.71,104.97 L211.21,105.04 L211.72,105.12 L212.22,105.19 L212.73,105.25 L213.23,105.32 L213.74,105.38 L214.25,105.44 L214.75,105.49 L215.26,105.55 L215.77,105.60 L216.28,105.66 L216.79,105.71 L217.29,105.76 L217.80,105.82 L218.31,105.87 L218.82,105.92 L219.33,105.98 L219.83,106.03 L220.34,106.09 L220.85,106.15 L221.36,106.21 L221.86,106.27 L222.37,106.34 L222.87,106.41 L223.38,106.48 L223.88,106.56 L224.39,106.64 L224.89,106.72 L225.39,106.81 L225.90,106.90 L226.40,106.98 L226.90,107.08 L227.40,107.17 L227.91,107.26 L228.41,107.36 L228.91,107.45 L229.41,107.55 L229.91,107.64 L230.42,107.73 L230.92,107.83 L231.42,107.92 L231.92,108.01 L232.43,108.09 L232.93,108.18 L233.43,108.26 L233.94,108.34 L234.44,108.42 L234.95,108.49 L235.45,108.57 L235.96,108.64 L236.46,108.71 L236.97,108.78 L237.47,108.85 L237.98,108.91 L238.49,108.98 L238.99,109.05 L239.50,109.11 L240.01,109.18 L240.51,109.25 L241.02,109.31 L241.53,109.38 L242.03,109.45 L242.54,109.51 L243.04,109.58 L243.55,109.65 L244.05,109.72 L244.56,109.79 L245.07,109.87 L245.57,109.94 L246.08,110.02 L246.58,110.09 L247.08,110.17 L247.59,110.25 L248.09,110.33 L248.60,110.41 L249.10,110.50 L249.60,110.58 L250.11,110.66 L250.61,110.74 L251.12,110.83 L251.62,110.91 L252.12,110.99 L252.63,111.08 L253.13,111.16 L253.64,111.24 L254.14,111.32 L254.64,111.40 L255.15,111.48 L255.65,111.56 L256.16,111.63 L256.66,111.71 L257.17,111.78 L257.67,111.86 L258.18,111.93 L258.68,112.00 L259.19,112.07 L259.69,112.14 L260.20,112.22 L260.71,112.29 L261.21,112.36 L261.72,112.42 L262.22,112.49 L262.73,112.56 L263.23,112.63 L263.74,112.70 L264.25,112.76 L264.75,112.83 L265.26,112.90 L265.77,112.96 L266.27,113.03 L266.78,113.09 L267.28,113.16 L267.79,113.22 L268.30,113.29 L268.80,113.35 L269.31,113.41 L269.82,113.48 L270.32,113.54 L270.83,113.60 L271.34,113.66 L271.84,113.72 L272.35,113.78 L272.86,113.84 L273.37,113.90 L273.87,113.96 L274.38,114.02 L274.89,114.08 L275.39,114.14 L275.90,114.20 L276.41,114.26 L276.92,114.32 L277.42,114.38 L277.93,114.44 L278.44,114.50 L278.94,114.56 L279.45,114.62 L279.96,114.68 L280.46,114.73 L280.97,114.79 L281.48,114.85 L281.99,114.91 L282.49,114.97 L283.00,115.03 L283.51,115.09 L284.01,115.15 L284.52,115.21 L285.03,115.27 L285.53,115.33 L286.04,115.39 L286.55,115.45 L287.06,115.51 L287.56,115.57 L288.07,115.63 L288.58,115.69 L289.08,115.75 L289.59,115.81 L290.10,115.86 L290.61,115.92 L291.11,115.98 L291.62,116.04 L292.13,116.10 L292.63,116.16 L293.14,116.22 L293.65,116.28 L294.15,116.34 L294.66,116.41 L295.17,116.47 L295.68,116.53 L296.18,116.59 L296.69,116.65 L297.20,116.71 L297.70,116.76 L298.21,116.82 L298.72,116.88 L299.23,116.94 L299.73,117.00 L300.24,117.05 L300.75,117.11 L301.25,117.16 L301.76,117.22 L302.27,117.27 L302.78,117.32 L303.29,117.38 L303.79,117.43 L304.30,117.48 L304.81,117.53 L305.32,117.58 L305.83,117.63 L306.33,117.68 L306.84,117.72 L307.35,117.77 L307.86,117.82 L308.37,117.87 L308.88,117.92 L309.38,117.97 L309.89,118.02 L310.40,118.06 L310.91,118.11 L311.42,118.16 L311.92,118.21 L312.43,118.26 L312.94,118.31 L313.45,118.37 L313.96,118.42 L314.46,118.47 L314.97,118.52 L315.48,118.57 L315.99,118.62 L316.50,118.67 L317.00,118.72 L317.51,118.77 L318.02,118.83 L318.53,118.88 L319.04,118.93 L319.54,118.98 L320.05,119.03 L320.56,119.09 L321.07,119.14 L321.57,119.19 L322.08,119.25 L322.59,119.30 L323.10,119.35 L323.61,119.41 L324.11,119.46 L324.62,119.52 L325.13,119.57 L325.64,119.63 L326.14,119.69 L326.65,119.74 L327.16,119.80 L327.66,119.86 L328.17,119.92 L328.68,119.98 L329.19,120.03 L329.69,120.09 L330.20,120.15 L330.71,120.21 L331.21,120.27 L331.72,120.33 L332.23,120.39 L332.74,120.45 L333.24,120.50 L333.75,120.56 L334.26,120.62 L334.77,120.68 L335.27,120.74 L335.78,120.79 L336.29,120.85 L336.79,120.91 L337.30,120.96 L337.81,121.02 L338.32,121.08 L338.82,121.13 L339.33,121.19 L339.84,121.25 L340.35,121.30 L340.85,121.36 L341.36,121.42 L341.87,121.47 L342.38,121.53 L342.88,121.58 L343.39,121.64 L343.90,121.70 L344.41,121.75 L344.91,121.81 L345.42,121.87 L345.93,121.92 L346.43,121.98 L346.94,122.04 L347.45,122.10 L347.96,122.15 L348.46,122.21 L348.97,122.27 L349.48,122.33 L349.99,122.38 L350.49,122.44 L351.00,122.50" fill="none" stroke="#000" stroke-width="1.85" stroke-dasharray="1.754 2.038 1.754 5.830" stroke-dashoffset="8.2"/>
<rect x="64.6" y="15.5" width="320.9" height="227.8" fill="none" stroke="#000" stroke-width="1.28"/>
<path d="M64.6,217.99h6M385.5,217.99h-6M64.6,192.68h6M385.5,192.68h-6M64.6,167.37h6M385.5,167.37h-6M64.6,142.06h6M385.5,142.06h-6M64.6,116.74h6M385.5,116.74h-6M64.6,91.43h6M385.5,91.43h-6M64.6,66.12h6M385.5,66.12h-6M64.6,40.81h6M385.5,40.81h-6M104.71,243.3v-6M104.71,15.5v6M144.82,243.3v-6M144.82,15.5v6M184.94,243.3v-6M184.94,15.5v6M225.05,243.3v-6M225.05,15.5v6M265.16,243.3v-6M265.16,15.5v6M305.27,243.3v-6M305.27,15.5v6M345.39,243.3v-6M345.39,15.5v6" fill="none" stroke="#000" stroke-width="1.28"/>
<text x="56.7" y="247.70" text-anchor="end" style="font-size:12.7px">0</text><text x="56.7" y="222.39" text-anchor="end" style="font-size:12.7px">20</text><text x="56.7" y="197.08" text-anchor="end" style="font-size:12.7px">40</text><text x="56.7" y="171.77" text-anchor="end" style="font-size:12.7px">60</text><text x="56.7" y="146.46" text-anchor="end" style="font-size:12.7px">80</text><text x="56.7" y="121.14" text-anchor="end" style="font-size:12.7px">100</text><text x="56.7" y="95.83" text-anchor="end" style="font-size:12.7px">120</text><text x="56.7" y="70.52" text-anchor="end" style="font-size:12.7px">140</text><text x="56.7" y="45.21" text-anchor="end" style="font-size:12.7px">160</text><text x="56.7" y="19.90" text-anchor="end" style="font-size:12.7px">180</text>
<text x="66.10" y="260.9" text-anchor="middle" style="font-size:12.7px">0</text><text x="106.21" y="260.9" text-anchor="middle" style="font-size:12.7px">2</text><text x="146.32" y="260.9" text-anchor="middle" style="font-size:12.7px">4</text><text x="186.44" y="260.9" text-anchor="middle" style="font-size:12.7px">6</text><text x="226.55" y="260.9" text-anchor="middle" style="font-size:12.7px">8</text><text x="266.66" y="260.9" text-anchor="middle" style="font-size:12.7px">10</text><text x="306.77" y="260.9" text-anchor="middle" style="font-size:12.7px">12</text><text x="346.89" y="260.9" text-anchor="middle" style="font-size:12.7px">14</text><text x="387.00" y="260.9" text-anchor="middle" style="font-size:12.7px">16</text>
<text x="225.2" y="280.6" text-anchor="middle" style="font-size:13.3px">Energy (MeV)</text>
<text transform="translate(15,130.2) rotate(-90)" text-anchor="middle"><tspan style="font-family:'Liberation Serif',serif;font-size:14px">δ</tspan><tspan dx="2.8"> (deg)</tspan></text>
<text transform="translate(294.0,29.00) scale(1.12,1.0)" style="font-size:10px">2</text><text transform="translate(300.3,36.40) scale(1,1.04)" style="font-size:13.2px">S</text><text transform="translate(309.6,40.20) scale(0.91,0.98)" style="font-size:10.6px;stroke-width:0.3px" letter-spacing="0.2">1/2</text>
<text transform="translate(294.0,48.60) scale(1.12,1.0)" style="font-size:10px">2</text><text transform="translate(300.3,56.00) scale(1,1.04)" style="font-size:13.2px">P</text><text transform="translate(309.6,59.80) scale(0.91,0.98)" style="font-size:10.6px;stroke-width:0.3px" letter-spacing="0.2">1/2</text>
<text transform="translate(294.0,68.20) scale(1.12,1.0)" style="font-size:10px">2</text><text transform="translate(300.3,75.60) scale(1,1.04)" style="font-size:13.2px">P</text><text transform="translate(309.6,79.40) scale(0.91,0.98)" style="font-size:10.6px;stroke-width:0.3px" letter-spacing="0.2">3/2</text>
</g>
</svg>
</body></html>
